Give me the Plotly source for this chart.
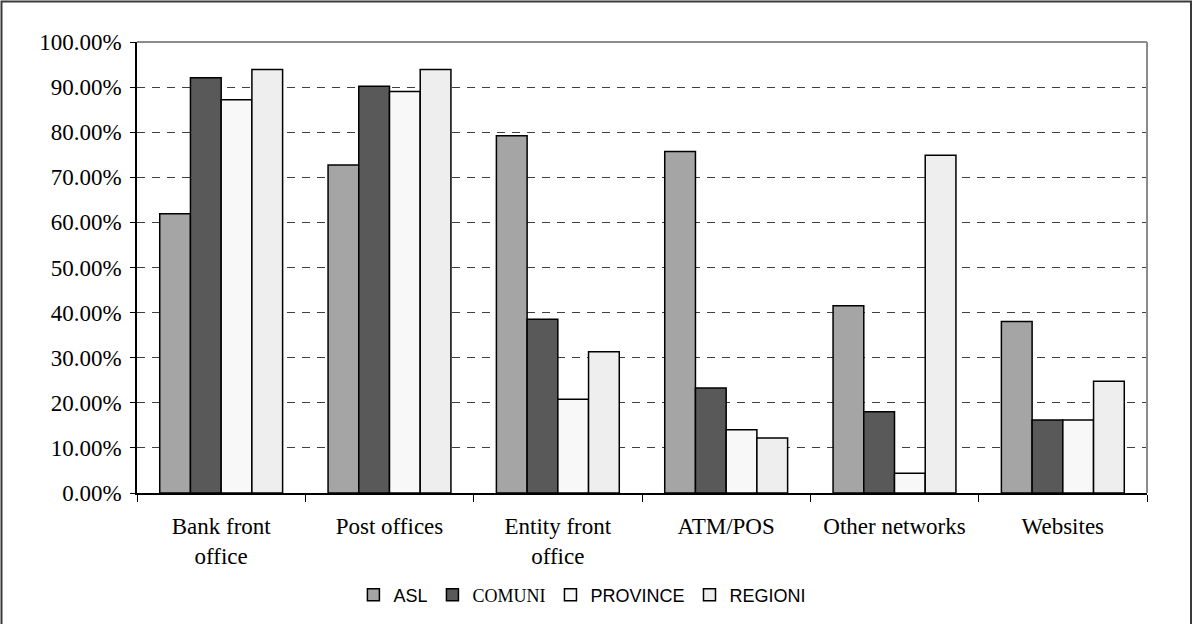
import plotly.graph_objects as go

# Channels through which payments are accepted, by type of public body
categories = ["Bank front<br>office", "Post offices", "Entity front<br>office",
              "ATM/POS", "Other networks", "Websites"]

asl = [0.619, 0.727, 0.792, 0.757, 0.415, 0.380]
comuni = [0.921, 0.902, 0.385, 0.233, 0.180, 0.162]
province = [0.872, 0.890, 0.208, 0.140, 0.044, 0.162]
regioni = [0.939, 0.939, 0.313, 0.122, 0.749, 0.248]

y_ticks = [i / 10 for i in range(11)]

series = [
    ("ASL", asl, "#a5a5a5"),
    ("<span style='font-family:Liberation Serif'>COMUNI</span>", comuni, "#595959"),
    ("PROVINCE", province, "#f8f8f8"),
    ("REGIONI", regioni, "#eeeeee"),
]

fig = go.Figure()
for name, vals, color in series:
    fig.add_trace(go.Bar(
        x=categories, y=vals, name=name,
        marker=dict(color=color, line=dict(color="black", width=1.5)),
    ))

# plot-area geometry in pixels
W, H = 1192, 624
L, R, T, B = 137, 45, 42, 130
pw, ph = W - L - R, H - T - B

fig.update_layout(
    width=W, height=H,
    margin=dict(l=L, r=R, t=T, b=B),
    paper_bgcolor="white", plot_bgcolor="white",
    barmode="group", bargap=0.27, bargroupgap=0,
    showlegend=True,
    legend=dict(
        orientation="h", x=0.441, xanchor="center", y=(494 - 595) / ph, yanchor="middle",
        font=dict(family="Liberation Sans", size=18, color="black"),
        itemwidth=30, tracegroupgap=0,
    ),
    font=dict(family="Liberation Serif", color="black"),
)

fig.update_xaxes(
    showline=True, linecolor="black", linewidth=1.5,
    ticks="outside", tickson="boundaries", ticklen=7, tickcolor="black", tickwidth=1,
    tickfont=dict(family="Liberation Serif", size=23, color="black"),
    ticklabelstandoff=12,
    showgrid=False,
)
fig.update_yaxes(
    range=[0, 1], tickvals=y_ticks, tickformat=".2%",
    showline=True, linecolor="black", linewidth=1.5,
    ticks="outside", ticklen=5, tickcolor="black", tickwidth=1,
    tickfont=dict(family="Liberation Serif", size=23, color="black"),
    ticklabelstandoff=4,
    showgrid=True, gridcolor="#404040", gridwidth=1, griddash="8px,7px",
    zeroline=False,
)

# grey frame on the top and right of the plot area
fig.add_shape(type="line", xref="paper", yref="paper", x0=0, x1=1, y0=1, y1=1,
              line=dict(color="#8c8c8c", width=2), layer="above")
fig.add_shape(type="line", xref="paper", yref="paper", x0=1, x1=1, y0=0, y1=1,
              line=dict(color="#8c8c8c", width=2), layer="above")

# outer border around the whole chart
fig.add_shape(type="rect", xref="paper", yref="paper",
              x0=(1.5 - L) / pw, x1=(1191 - L) / pw,
              y0=(494 - 700) / ph, y1=(494 - 1.5) / ph,
              line=dict(color="#3a3a3a", width=2), fillcolor="rgba(0,0,0,0)", layer="above")

fig.write_html("out.html")
